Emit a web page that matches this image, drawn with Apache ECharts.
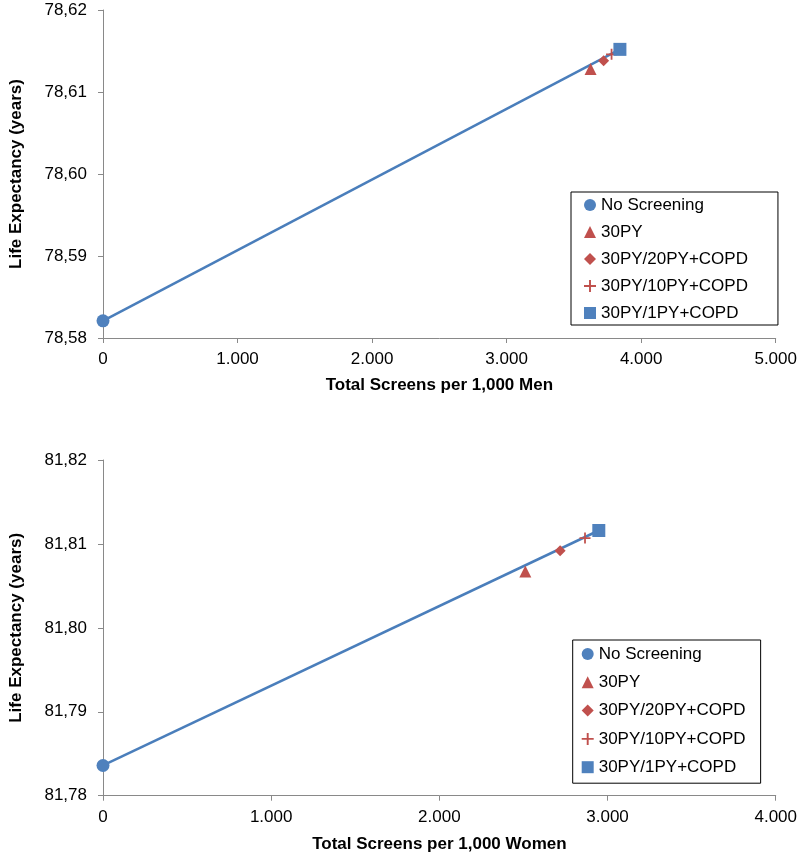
<!DOCTYPE html>
<html>
<head>
<meta charset="utf-8">
<script src="https://cdn.jsdelivr.net/npm/echarts@6/dist/echarts.min.js"></script>
<style>
html,body{margin:0;padding:0;background:#fff;}
#chart{width:800px;height:856px;}
</style>
</head>
<body>
<div id="chart"></div>
<script>
// ---- data ----
const seriesNames = ['No Screening', '30PY', '30PY/20PY+COPD', '30PY/10PY+COPD', '30PY/1PY+COPD'];
const menX = [0, 3624, 3721, 3780, 3842];
const menY = [78.5821, 78.6128, 78.6138, 78.6146, 78.6152];
const womenX = [0, 2511, 2718, 2866, 2948];
const womenY = [81.7836, 81.8067, 81.8092, 81.8107, 81.8116];
const menXAxis = {min: 0, max: 5000, interval: 1000};
const menYAxis = {min: 78.58, max: 78.62, interval: 0.01};
const womenXAxis = {min: 0, max: 4000, interval: 1000};
const womenYAxis = {min: 81.78, max: 81.82, interval: 0.01};
const xTitles = ['Total Screens per 1,000 Men', 'Total Screens per 1,000 Women'];
const yTitle = 'Life Expectancy (years)';

// ---- styles ----
const BLUE = '#4F81BD', RED = '#C0504D', LINE = '#4A7EBB';
const plusPath = 'path://M4.2,0H5.8V10H4.2Z M0,4.2H10V5.8H0Z';
const diamondPath = 'path://M5,0L10,5L5,10L0,5Z';
const symbols = ['circle', 'triangle', diamondPath, plusPath, 'rect'];
const colors = [BLUE, RED, RED, RED, BLUE];
const sizes = [13, 12, 11, 11, 13];
const FONT = '"Liberation Sans", Arial, Helvetica, sans-serif';
const axisColor = '#898989';

function fmtX(v){ return v === 0 ? '0' : (v/1000).toFixed(0) + '.000'; }
function fmtY(v){ return v.toFixed(2).replace('.', ','); }

function xAxis(idx, cfg, title, gap){
  return {
    type: 'value', gridIndex: idx, min: cfg.min, max: cfg.max, interval: cfg.interval,
    splitLine: {show: false},
    axisLine: {show: true, onZero: false, lineStyle: {color: axisColor, width: 1}},
    axisTick: {show: true, length: 5, lineStyle: {color: axisColor}},
    axisLabel: {formatter: fmtX, color: '#000', fontSize: 17, fontFamily: FONT, margin: 13},
    name: title, nameLocation: 'middle', nameGap: gap,
    nameTextStyle: {color: '#000', fontSize: 17, fontWeight: 'bold', fontFamily: FONT}
  };
}
function yAxis(idx, cfg){
  return {
    type: 'value', gridIndex: idx, min: cfg.min, max: cfg.max, interval: cfg.interval,
    splitLine: {show: false},
    axisLine: {show: true, onZero: false, lineStyle: {color: axisColor, width: 1}},
    axisTick: {show: true, length: 5, lineStyle: {color: axisColor}},
    axisLabel: {formatter: fmtY, color: '#000', fontSize: 17, fontFamily: FONT, margin: 16},
    name: yTitle, nameLocation: 'middle', nameGap: 78, nameRotate: 90,
    nameTextStyle: {color: '#000', fontSize: 17, fontWeight: 'bold', fontFamily: FONT}
  };
}

const series = [];
[[menX, menY], [womenX, womenY]].forEach(function(d, g){
  const xs = d[0], ys = d[1];
  // frontier line from No Screening to 30PY/1PY+COPD
  series.push({
    type: 'line', xAxisIndex: g, yAxisIndex: g, name: 'frontier' + g,
    data: [[xs[0], ys[0]], [xs[4], ys[4]]],
    showSymbol: false, symbol: 'none', silent: true,
    lineStyle: {color: LINE, width: 2.5}, z: 2
  });
  seriesNames.forEach(function(n, i){
    series.push({
      type: 'scatter', name: n, xAxisIndex: g, yAxisIndex: g,
      data: [[xs[i], ys[i]]],
      symbol: symbols[i], symbolSize: sizes[i],
      itemStyle: {color: colors[i], opacity: 1}, z: 3
    });
  });
});

function legend(left, top, padding, gap){
  return {
    orient: 'vertical', left: left, top: top, padding: padding, itemGap: gap,
    itemWidth: 12, itemHeight: 12,
    borderColor: '#000', borderWidth: 1, backgroundColor: '#fff',
    selectedMode: false,
    textStyle: {color: '#000', fontSize: 17, fontFamily: FONT, lineHeight: 17},
    data: seriesNames.map(function(n, i){ return {name: n, icon: symbols[i]}; })
  };
}

const option = {
  animation: false,
  backgroundColor: '#fff',
  grid: [
    {left: 100.7, top: 10, width: 675, height: 328},
    {left: 99, top: 460, width: 677, height: 335.7}
  ],
  xAxis: [xAxis(0, menXAxis, xTitles[0], 39), xAxis(1, womenXAxis, xTitles[1], 40)],
  yAxis: [yAxis(0, menYAxis), yAxis(1, womenYAxis)],
  legend: [
    legend(571, 192, [4.5, 30, 3.5, 13], 10),
    legend(572.7, 640, [5.5, 15, 7.5, 9], 11.3)
  ],
  series: series
};

const chart = echarts.init(document.getElementById('chart'), null, {renderer: 'canvas'});
chart.setOption(option);
</script>
</body>
</html>
